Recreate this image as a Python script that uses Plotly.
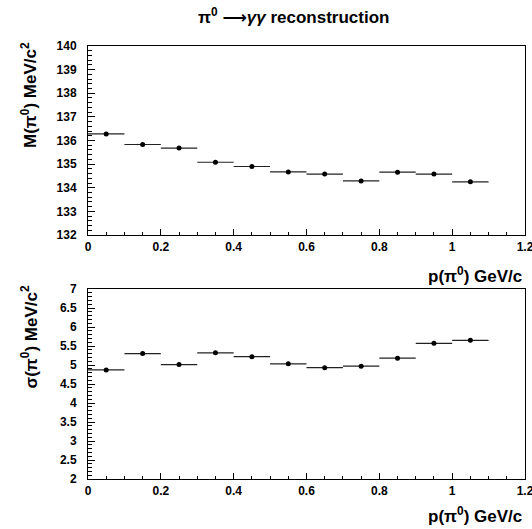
import plotly.graph_objects as go

# Bin centres (GeV/c) and half bin width
p_centres = [0.05, 0.15, 0.25, 0.35, 0.45, 0.55, 0.65, 0.75, 0.85, 0.95, 1.05]
half_width = [0.05] * len(p_centres)

# Reconstructed pi0 mass (MeV/c^2)
mass = [136.28, 135.83, 135.68, 135.08, 134.90, 134.67, 134.58, 134.29, 134.66, 134.58, 134.25]
# Mass resolution sigma (MeV/c^2)
sigma = [4.87, 5.30, 5.01, 5.32, 5.22, 5.03, 4.93, 4.97, 5.18, 5.57, 5.65]

title_text = "π<sup>0</sup> <span style=\"font-family:DejaVu Sans\">⟶</span><i>γγ</i> reconstruction"
xlabel = "p(π<sup>0</sup>) GeV/c"
ylabel_top = "M(π<sup>0</sup>) MeV/c<sup>2</sup>"
ylabel_bot = "σ(π<sup>0</sup>) MeV/c<sup>2</sup>"

W, H = 532, 529
FONT = "Liberation Sans, Arial, sans-serif"

fig = go.Figure()

def add_series(yvals, xa, ya):
    fig.add_trace(go.Scatter(
        x=p_centres, y=yvals, mode="markers",
        marker=dict(color="black", size=5, symbol="circle"),
        error_x=dict(type="data", array=half_width, color="#222", thickness=1.2, width=0, visible=True),
        xaxis=xa, yaxis=ya, showlegend=False, hoverinfo="x+y",
    ))

add_series(mass, "x", "y")
add_series(sigma, "x2", "y2")

x_dom = [88 / W, 525 / W]
top_dom = [1 - 235 / H, 1 - 46 / H]
bot_dom = [1 - 479 / H, 1 - 289 / H]

tickfont = dict(family=FONT, size=12, color="black", weight="bold")

def xaxis_cfg(anchor):
    return dict(
        domain=x_dom, range=[0, 1.2], anchor=anchor, automargin=False,
        showline=True, linecolor="black", linewidth=1, mirror=True,
        ticks="inside", ticklen=6, tickwidth=1, tickcolor="black",
        tickfont=tickfont, showgrid=False, zeroline=False, ticklabelstandoff=1,
        ticklabeloverflow="allow",
        tickvals=[0, 0.2, 0.4, 0.6, 0.8, 1.0, 1.2],
        ticktext=["0", "0.2", "0.4", "0.6", "0.8", "1", "1.2"],
        minor=dict(ticks="inside", ticklen=3, dtick=0.05, tick0=0, tickcolor="black", showgrid=False),
    )

def yaxis_cfg(anchor, dom, rng, dtick, mdtick):
    return dict(
        domain=dom, range=rng, anchor=anchor, automargin=False,
        showline=True, linecolor="black", linewidth=1, mirror=True,
        ticks="inside", ticklen=7, tickwidth=1, tickcolor="black",
        tick0=rng[0], dtick=dtick, tickfont=tickfont, showgrid=False, zeroline=False,
        ticklabelstandoff=8, ticklabeloverflow="allow",
        minor=dict(ticks="inside", ticklen=4, dtick=mdtick, tick0=rng[0], tickcolor="black", showgrid=False),
    )

fig.update_layout(
    width=W, height=H,
    margin=dict(l=0, r=0, t=0, b=0, autoexpand=False),
    paper_bgcolor="white", plot_bgcolor="white",
    xaxis=xaxis_cfg("y"),
    yaxis=yaxis_cfg("x", top_dom, [132, 140], 1, 0.2),
    xaxis2=xaxis_cfg("y2"),
    yaxis2=yaxis_cfg("x2", bot_dom, [2, 7], 0.5, 0.1),
    font=dict(family=FONT, color="black"),
)

annfont = dict(family=FONT, size=17, color="black", weight="bold")
fig.add_annotation(text=title_text, xref="paper", yref="paper", x=293 / W, y=1 - 16 / H,
                   xanchor="center", yanchor="middle", showarrow=False,
                   font=dict(family=FONT, size=17, color="black", weight="bold"))
fig.add_annotation(text=xlabel, xref="paper", yref="paper", x=524 / W, y=1 - 275 / H,
                   xanchor="right", yanchor="middle", showarrow=False, font=annfont)
fig.add_annotation(text=xlabel, xref="paper", yref="paper", x=524 / W, y=1 - 515 / H,
                   xanchor="right", yanchor="middle", showarrow=False, font=annfont)
fig.add_annotation(text=ylabel_top, xref="paper", yref="paper", x=29 / W, y=1 - 40 / H,
                   xanchor="center", yanchor="top", textangle=-90, showarrow=False, font=annfont)
fig.add_annotation(text=ylabel_bot, xref="paper", yref="paper", x=29 / W, y=1 - 284 / H,
                   xanchor="center", yanchor="top", textangle=-90, showarrow=False, font=annfont)

fig.write_html("out.html", config={"displayModeBar": False},
               post_script="document.body.style.margin='0';document.body.style.overflow='hidden';")
